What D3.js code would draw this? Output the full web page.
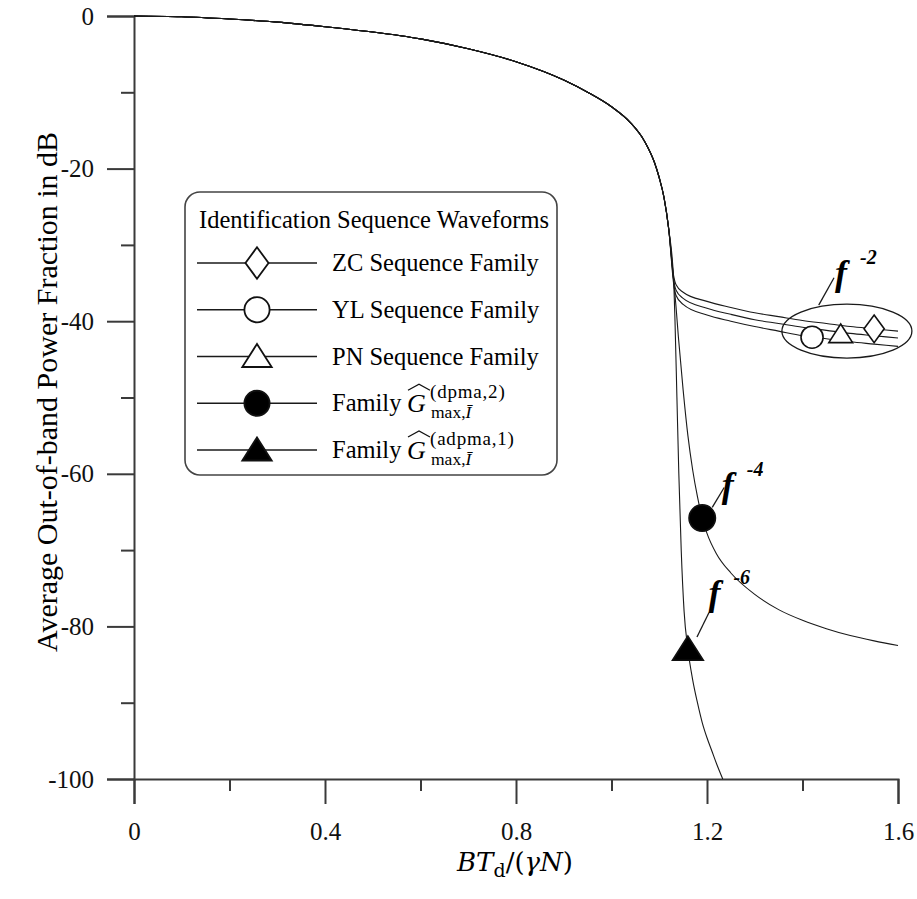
<!DOCTYPE html>
<html>
<head>
<meta charset="utf-8">
<script src="https://cdn.jsdelivr.net/npm/d3@7"></script>
<style>
body { margin: 0; background: #fff; }
</style>
</head>
<body>
<svg id="chart" width="917" height="899"></svg>
<script>
// x = BT_d/(gamma N), y = average out-of-band power fraction in dB
// part shared by all five families
const commonPart = [[0, 0], [0.1, -0.1], [0.2, -0.4], [0.3, -0.8], [0.4, -1.4], [0.5, -2.1],
  [0.6, -3.0], [0.7, -4.3], [0.8, -6.0], [0.9, -8.4], [0.95, -10], [1.0, -11.9], [1.04, -14],
  [1.07, -16.5], [1.09, -19.2], [1.1, -21.2], [1.11, -23.8], [1.12, -28]];

// f^-2 families
const zcBranch = [[1.13, -34], [1.135, -35.2], [1.15, -36.2], [1.2, -37.4], [1.25, -38.2], [1.3, -38.9],
  [1.35, -39.4], [1.4, -39.9], [1.45, -40.3], [1.5, -40.7], [1.55, -41], [1.6, -41.3]];
const pnBranch = [[1.13, -34.5], [1.135, -35.9], [1.15, -37], [1.2, -38.3], [1.25, -39.1], [1.3, -39.8],
  [1.35, -40.3], [1.4, -40.8], [1.45, -41.2], [1.5, -41.6], [1.55, -41.9], [1.6, -42.2]];
const ylBranch = [[1.13, -35], [1.135, -36.6], [1.15, -37.8], [1.2, -39.2], [1.25, -40], [1.3, -40.7],
  [1.35, -41.3], [1.4, -41.9], [1.45, -42.3], [1.5, -42.7], [1.55, -43], [1.6, -43.3]];
// f^-4 family
const dpmaBranch = [[1.13, -34.5], [1.135, -38], [1.14, -42], [1.15, -49], [1.16, -55], [1.17, -59.5],
  [1.18, -63], [1.19, -65.8], [1.2, -67.8], [1.22, -70.5], [1.25, -73], [1.3, -75.8], [1.35, -77.8],
  [1.4, -79.2], [1.45, -80.3], [1.5, -81.2], [1.55, -81.9], [1.6, -82.5]];
// f^-6 family
const adpmaBranch = [[1.13, -34.5], [1.133, -40], [1.137, -50], [1.141, -60], [1.146, -70], [1.152, -78],
  [1.16, -83], [1.17, -87], [1.18, -90], [1.19, -92.6], [1.2, -94.6], [1.21, -96.3], [1.22, -98], [1.233, -100]];

const families = ["ZC", "YL", "PN", "dpma", "adpma"];
const branches = { ZC: zcBranch, YL: ylBranch, PN: pnBranch, dpma: dpmaBranch, adpma: adpmaBranch };

// one marker per family on its curve
const markerX = { ZC: 1.55, YL: 1.42, PN: 1.48, dpma: 1.19, adpma: 1.16 };
const markerY = { ZC: -41, YL: -42.1, PN: -41.7, dpma: -65.8, adpma: -83 };

const xMajor = [0, 0.4, 0.8, 1.2, 1.6];
const xMinor = [0.2, 0.6, 1.0, 1.4];
const yMajor = [0, -20, -40, -60, -80, -100];
const yMinor = [-10, -30, -50, -70, -90];

const legendLabels = ["ZC Sequence Family", "YL Sequence Family", "PN Sequence Family", "Family", "Family"];
const legendSup = ["", "", "", "(dpma,2)", "(adpma,1)"];

const serif = '"Liberation Serif", "Times New Roman", serif';
const svg = d3.select("#chart");
const x = d3.scaleLinear().domain([0, 1.6]).range([134, 898]);
const y = d3.scaleLinear().domain([-100, 0]).range([779, 16]);

const axisColor = "#3a3a3a";

// axes
const gx = svg.append("g").attr("transform", "translate(0,779)");
gx.call(d3.axisBottom(x).tickValues(xMajor).tickSize(25).tickPadding(18).tickFormat(d => String(d)));
gx.append("g").call(d3.axisBottom(x).tickValues(xMinor).tickSize(12).tickFormat(""));
const gy = svg.append("g").attr("transform", "translate(134,0)");
gy.call(d3.axisLeft(y).tickValues(yMajor).tickSize(27).tickPadding(13).tickFormat(d => String(d)));
gy.append("g").call(d3.axisLeft(y).tickValues(yMinor).tickSize(13).tickFormat(""));
svg.selectAll(".domain").attr("stroke", axisColor).attr("stroke-width", 2);
svg.selectAll(".tick line").attr("stroke", axisColor).attr("stroke-width", 2);
gx.attr("font-family", serif);
gy.attr("font-family", serif);
svg.selectAll(".tick text").style("font-family", serif).style("font-size", "25px").attr("fill", "#111");
gx.selectAll(".domain").filter((d, i, n) => n[i].parentNode !== gx.node()).remove();
gy.selectAll(".domain").filter((d, i, n) => n[i].parentNode !== gy.node()).remove();

// curves
const line = d3.line().x(d => x(d[0])).y(d => y(d[1])).curve(d3.curveMonotoneX);
svg.append("g").selectAll("path").data(families).join("path")
  .attr("d", f => line(commonPart.concat(branches[f])))
  .attr("fill", "none").attr("stroke", "#1a1a1a").attr("stroke-width", 1.1);

// marker shapes
function markerPath(type, s) {
  if (type === "diamond") return `M0,${-15 * s}L${11 * s},0L0,${15 * s}L${-11 * s},0Z`;
  if (type === "triangle") return `M0,${-12 * s}L${14 * s},${10 * s}L${-14 * s},${10 * s}Z`;
  return d3.arc()({ innerRadius: 0, outerRadius: 12 * s, startAngle: 0, endAngle: 2 * Math.PI });
}
const markerType = { ZC: "diamond", YL: "circle", PN: "triangle", dpma: "circle", adpma: "triangle" };
const filled = { ZC: false, YL: false, PN: false, dpma: true, adpma: true };
const plotScale = { ZC: 0.92, YL: 0.92, PN: 0.85, dpma: 1.1, adpma: 1.1 };

svg.append("g").selectAll("path").data(families).join("path")
  .attr("transform", f => `translate(${x(markerX[f])},${y(markerY[f])})`)
  .attr("d", f => markerPath(markerType[f], plotScale[f]))
  .attr("fill", f => filled[f] ? "#000" : "#fff")
  .attr("stroke", "#111").attr("stroke-width", 1.6);

// f^-2 ellipse
svg.append("ellipse")
  .attr("cx", x(1.493)).attr("cy", y(-41.3)).attr("rx", 65).attr("ry", 27)
  .attr("fill", "none").attr("stroke", "#1a1a1a").attr("stroke-width", 1.3);

// slope annotations
const annoLabels = ["-2", "-4", "-6"];
const annoX = [1.468, 1.231, 1.203];
const annoY = [-35.3, -63.1, -77.2];
const leaderFrom = [[1.434, -37.9], [1.211, -64.4], [1.179, -81.4]];
const leaderTo = [[1.466, -34.3], [1.236, -61.8], [1.204, -78.2]];

annoLabels.forEach((lab, i) => {
  svg.append("line")
    .attr("x1", x(leaderFrom[i][0])).attr("y1", y(leaderFrom[i][1]))
    .attr("x2", x(leaderTo[i][0])).attr("y2", y(leaderTo[i][1]))
    .attr("stroke", "#1a1a1a").attr("stroke-width", 1.3);
  svg.append("text")
    .attr("x", x(annoX[i])).attr("y", y(annoY[i]))
    .attr("font-family", serif).attr("font-size", 36)
    .attr("font-weight", "bold").attr("font-style", "italic").text("f");
  svg.append("text")
    .attr("x", x(annoX[i]) + 25).attr("y", y(annoY[i]) - 21)
    .attr("font-family", serif).attr("font-size", 20)
    .attr("font-weight", "bold").attr("font-style", "italic").text(lab);
});

// legend
const lg = svg.append("g").attr("font-family", serif);
lg.append("rect").attr("x", 185).attr("y", 192).attr("width", 372).attr("height", 283).attr("rx", 15)
  .attr("fill", "#fff").attr("stroke", "#444").attr("stroke-width", 1.6);
lg.append("text").attr("x", 199).attr("y", 228).attr("font-size", 24.5)
  .text("Identification Sequence Waveforms");

const rowY = d3.scalePoint().domain(d3.range(5)).range([263, 450]);
families.forEach((f, i) => {
  const cy = rowY(i);
  lg.append("line").attr("x1", 197).attr("x2", 317).attr("y1", cy).attr("y2", cy)
    .attr("stroke", "#1a1a1a").attr("stroke-width", 1.3);
  lg.append("path").attr("transform", `translate(257,${cy})`)
    .attr("d", markerPath(markerType[f], 1.05))
    .attr("fill", filled[f] ? "#000" : "#fff").attr("stroke", "#111").attr("stroke-width", 1.8);
  lg.append("text").attr("x", 332).attr("y", cy + 8).attr("font-size", 24.5).text(legendLabels[i]);
  if (legendSup[i]) {
    lg.append("text").attr("x", 407).attr("y", cy + 9).attr("font-size", 26)
      .attr("font-style", "italic").text("G");
    lg.append("text").attr("x", 430).attr("y", cy - 5).attr("font-size", 19)
      .attr("letter-spacing", 0.8).text(legendSup[i]);
    const sub = lg.append("text").attr("x", 431).attr("y", cy + 15).attr("font-size", 17.5);
    sub.append("tspan").text("max,");
    sub.append("tspan").attr("font-style", "italic").text("Ī");
    // wide hat over the G
    lg.append("path").attr("d", `M408,${cy - 13}L419,${cy - 19}L430,${cy - 13}`)
      .attr("fill", "none").attr("stroke", "#111").attr("stroke-width", 1.3);
  }
});

// axis titles
const xl = svg.append("text").attr("x", 515).attr("y", 871).attr("text-anchor", "middle")
  .attr("font-family", '"DejaVu Serif", serif').attr("font-size", 26);
xl.append("tspan").attr("font-style", "italic").text("BT");
xl.append("tspan").attr("dy", 6).attr("font-size", 19).text("d");
xl.append("tspan").attr("dy", -6).text("/(");
xl.append("tspan").attr("font-style", "italic").text("γN");
xl.append("tspan").text(")");

svg.append("text")
  .attr("transform", "translate(57,392) rotate(-90)")
  .attr("text-anchor", "middle").attr("font-family", serif).attr("font-size", 30)
  .text("Average Out-of-band Power Fraction in dB");
</script>
</body>
</html>
